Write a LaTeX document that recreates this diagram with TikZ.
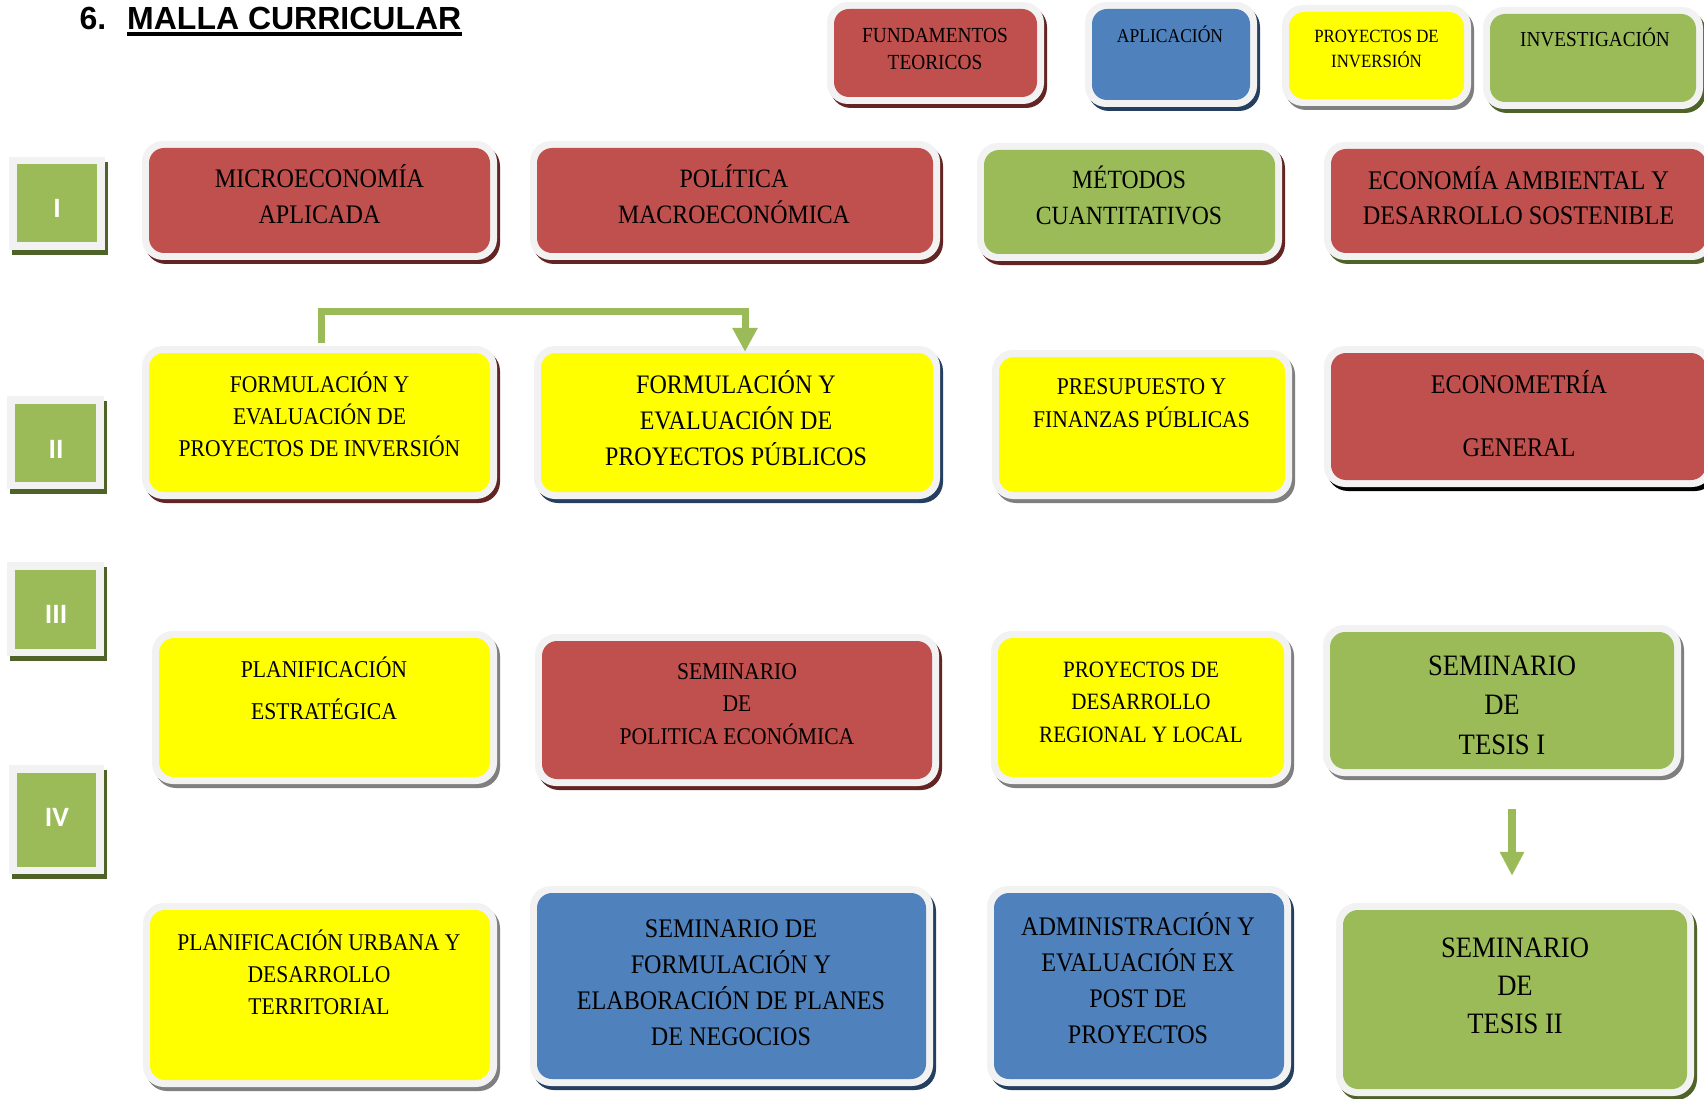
\documentclass[tikz,border=0pt]{standalone}
\usepackage{fontspec}
\setmainfont{Liberation Serif}[FakeStretch=0.9]
\newfontfamily\titlefont{Liberation Sans}
\newfontfamily\romfont{Carlito}
\usetikzlibrary{arrows.meta}
\definecolor{cred}{HTML}{C0504D}
\definecolor{cdkred}{HTML}{632523}
\definecolor{cblue}{HTML}{4F81BD}
\definecolor{cdkblue}{HTML}{243F60}
\definecolor{cyellow}{HTML}{FFFF00}
\definecolor{cgray}{HTML}{7F7F7F}
\definecolor{cgreen}{HTML}{9BBB59}
\definecolor{cdkgreen}{HTML}{4F6228}
\definecolor{lightb}{HTML}{F2F2F2}
\newcommand\fs[2]{\fontsize{#1}{#2}\selectfont}
\newcommand\lns[1]{\begin{tabular}[t]{@{}c@{}}#1\end{tabular}}
\tikzset{
  inbox/.style={rounded corners=15pt, inner sep=0pt, draw=none},
  txt/.style={anchor=base, inner sep=0pt, text=black},
  romtxt/.style={inner sep=0pt, text=white, font=\romfont\bfseries\fs{28}{30}},
  conn/.style={draw=cgreen, line width=7pt, -{Triangle[width=24pt,length=24pt]}},
  ttlfont/.style={anchor=base west, inner sep=0pt, font=\titlefont\bfseries\fs{32}{36}},
}
\newcommand\mkbox[7]{%
  \fill[#7, rounded corners=21pt] ({#2-4},{#3-3}) rectangle ({#4+10},{#5+11});
  \fill[lightb, rounded corners=21pt] ({#2-7},{#3-7}) rectangle ({#4+7},{#5+7});
  \node[inbox, fill=#6, minimum width={#4-#2}, minimum height={#5-#3}] (#1) at ({(#2+#4)/2},{(#3+#5)/2}) {};
}
\newcommand\mkroman[5]{%
  \fill[cdkgreen] ({#2+3},{#3+5}) rectangle ({#4+3},{#5+5});
  \fill[lightb] (#2,#3) rectangle (#4,#5);
  \node[inner sep=0pt, fill=cgreen, minimum width={#4-#2-16}, minimum height={#5-#3-15}] (#1) at ({(#2+#4)/2},{(#3+#5)/2}) {};
}
\begin{document}
\begin{tikzpicture}[x=1pt, y=-1pt]
\clip (0,0) rectangle (1704,1099);
\fill[white] (0,0) rectangle (1704,1099);

% title
\node[ttlfont] (num) at (79.5,29.3) {6.};
\node[ttlfont] (ttl) at (127,29.3) {MALLA CURRICULAR};
\draw[line width=3.7pt] ([yshift=-5pt]ttl.base west) -- ([yshift=-5pt]ttl.base east);

% legend
\mkbox{L1}{834}{9}{1037}{97}{cred}{cdkred}
\node[txt, font=\fs{21.5}{27}] (L1t) at (935,43) {\lns{FUNDAMENTOS\\TEORICOS}};
\mkbox{L2}{1092}{9}{1250}{100}{cblue}{cdkblue}
\node[txt, font=\fs{19.5}{25}] (L2t) at (1170,43) {APLICACIÓN};
\mkbox{L3}{1289}{12}{1464}{99}{cyellow}{cgray}
\node[txt, font=\fs{18.7}{25}] (L3t) at (1376.5,43) {\lns{PROYECTOS DE\\INVERSIÓN}};
\mkbox{L4}{1490}{14}{1696}{102}{cgreen}{cdkgreen}
\node[txt, font=\fs{21.4}{27}] (L4t) at (1595,47) {INVESTIGACIÓN};

% roman numerals
\mkroman{R1}{9}{157}{105}{250}
\node[romtxt] (R1t) at (57,208) {I};
\mkroman{R2}{7}{396}{104}{489}
\node[romtxt] (R2t) at (56,449) {II};
\mkroman{R3}{7}{562}{104}{656}
\node[romtxt] (R3t) at (56,614) {III};
\mkroman{R4}{9}{765}{104}{874}
\node[romtxt] (R4t) at (57,817) {IV};

% row I
\mkbox{A1}{149}{148}{490}{253}{cred}{cdkred}
\node[txt, font=\fs{26.8}{36}] (A1t) at (319.5,188) {\lns{MICROECONOMÍA\\APLICADA}};
\mkbox{A2}{537}{148}{933}{253}{cred}{cdkred}
\node[txt, font=\fs{26.5}{36}] (A2t) at (734,188) {\lns{POLÍTICA\\MACROECONÓMICA}};
\mkbox{A3}{984}{150}{1275}{254}{cgreen}{cdkred}
\node[txt, font=\fs{26.3}{36}] (A3t) at (1129,189) {\lns{MÉTODOS\\CUANTITATIVOS}};
\mkbox{A4}{1331}{149}{1706}{253}{cred}{cdkgreen}
\node[txt, font=\fs{26.9}{35}] (A4t) at (1518.5,190) {\lns{ECONOMÍA AMBIENTAL Y\\DESARROLLO SOSTENIBLE}};

% row II
\mkbox{B1}{149}{353}{490}{492}{cyellow}{cdkred}
\node[txt, font=\fs{24}{32}] (B1t) at (319.5,392) {\lns{FORMULACIÓN Y\\EVALUACIÓN DE\\PROYECTOS DE INVERSIÓN}};
\mkbox{B2}{541}{353}{933}{492}{cyellow}{cdkblue}
\node[txt, font=\fs{26.7}{36}] (B2t) at (736,393) {\lns{FORMULACIÓN Y\\EVALUACIÓN DE\\PROYECTOS PÚBLICOS}};
\mkbox{B3}{999}{357}{1285}{492}{cyellow}{cgray}
\node[txt, font=\fs{24}{33}] (B3t) at (1141.5,394) {\lns{PRESUPUESTO Y\\FINANZAS PÚBLICAS}};
\mkbox{B4}{1331}{353}{1706}{480}{cred}{black}
\node[txt, font=\fs{26.9}{31.5}] (B4t) at (1519,393) {\lns{ECONOMETRÍA\\ \\GENERAL}};

% row III
\mkbox{C1}{159}{638}{490}{777}{cyellow}{cgray}
\node[txt, font=\fs{24.1}{42}] (C1t) at (324,677) {\lns{PLANIFICACIÓN\\ESTRATÉGICA}};
\mkbox{C2}{542}{641}{932}{779}{cred}{cdkred}
\node[txt, font=\fs{24}{32.5}] (C2t) at (737,679) {\lns{SEMINARIO\\DE\\POLITICA ECONÓMICA}};
\mkbox{C3}{998}{638}{1284}{777}{cyellow}{cgray}
\node[txt, font=\fs{23.4}{32.5}] (C3t) at (1141,677) {\lns{PROYECTOS DE\\DESARROLLO\\REGIONAL Y LOCAL}};
\mkbox{C4}{1330}{632}{1674}{769}{cgreen}{cgray}
\node[txt, font=\fs{29.6}{39.5}] (C4t) at (1502,675) {\lns{SEMINARIO\\DE\\TESIS I}};

% row IV
\mkbox{D1}{150}{910}{490}{1080}{cyellow}{cgray}
\node[txt, font=\fs{24}{32}] (D1t) at (319,950) {\lns{PLANIFICACIÓN URBANA Y\\DESARROLLO\\TERRITORIAL}};
\mkbox{D2}{537}{893}{926}{1079}{cblue}{cdkblue}
\node[txt, font=\fs{26.8}{36}] (D2t) at (731,937) {\lns{SEMINARIO DE\\FORMULACIÓN Y\\ELABORACIÓN DE PLANES\\DE NEGOCIOS}};
\mkbox{D3}{994}{893}{1284}{1079}{cblue}{cdkblue}
\node[txt, font=\fs{26.8}{36}] (D3t) at (1138,935) {\lns{ADMINISTRACIÓN Y\\EVALUACIÓN EX\\POST DE\\PROYECTOS}};
\mkbox{D4}{1343}{910}{1687}{1089}{cgreen}{cdkgreen}
\node[txt, font=\fs{29.6}{38}] (D4t) at (1515,957) {\lns{SEMINARIO\\DE\\TESIS II}};

% connectors
\coordinate (a1s) at ([xshift=1.5pt, yshift=10pt]B1.north);
\coordinate (a1e) at ([xshift=8pt, yshift=1pt]B2.north);
\draw[conn] (a1s) -- ++(0,-31) -| (a1e);
\coordinate (a2s) at ([xshift=10pt, yshift=-40pt]C4.south);
\coordinate (a2e) at ([yshift=34pt]D4.north);
\draw[conn, line width=8pt, -{Triangle[width=23pt,length=24pt]}] (a2s) -- (a2s |- a2e);
\end{tikzpicture}
\end{document}
